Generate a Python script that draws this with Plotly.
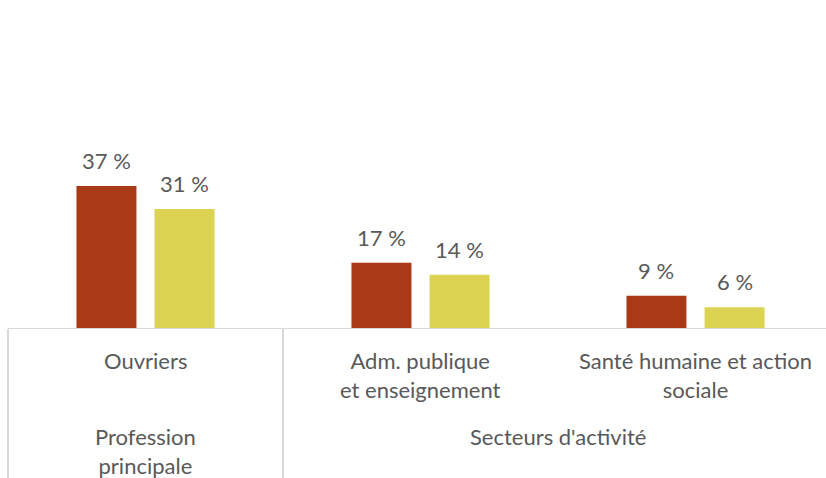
import plotly.graph_objects as go

categories = ["Ouvriers", "Adm. publique<br>et enseignement", "Santé humaine et action<br>sociale"]
groups = ["Profession<br>principale", "Secteurs d'activité"]
group_spans = [(0, 0), (1, 2)]
series_a = [36.9, 17.1, 8.6]
series_b = [31.0, 14.0, 5.6]
colors = ["#A83A17", "#DDD352"]

FONT = "Lato"
FS = 22
TXT = "#595959"
LINE = "#D9D9D9"

xmin, xmax = -0.5, 2.4745
ymin, ymax = 0, 80

x = list(range(len(categories)))
fig = go.Figure()
for vals, col in zip([series_a, series_b], colors):
    fig.add_trace(go.Bar(x=x, y=vals, marker=dict(color=col, line=dict(width=0)),
                         hoverinfo="skip"))

ann = []
offsets = [-0.142, 0.142]
for vals, off in zip([series_a, series_b], offsets):
    for i, v in enumerate(vals):
        ann.append(dict(x=i + off, y=v, xref="x", yref="y", text=f"{v:.0f} %",
                        showarrow=False, yanchor="bottom", yshift=10,
                        font=dict(family=FONT, size=FS, color=TXT)))
for i, c in enumerate(categories):
    ann.append(dict(x=i, y=0, xref="x", yref="y", text=c, showarrow=False,
                    yanchor="top", yshift=-16,
                    font=dict(family=FONT, size=FS, color=TXT)))
for g, (a, b) in zip(groups, group_spans):
    ann.append(dict(x=(a + b) / 2, y=0, xref="x", yref="y", text=g, showarrow=False,
                    yanchor="top", yshift=-92,
                    font=dict(family=FONT, size=FS, color=TXT)))

shapes = [dict(type="line", xref="paper", yref="y", x0=0, x1=1, y0=0, y1=0,
               line=dict(color=LINE, width=2))]
for a, b in group_spans:
    px = (a - 0.5 - xmin) / (xmax - xmin)
    shapes.append(dict(type="line", xref="paper", yref="paper", x0=px, x1=px,
                       y0=0, y1=-0.5, line=dict(color=LINE, width=2)))

fig.update_layout(
    width=826, height=478,
    margin=dict(l=8, r=0, t=19, b=149),
    paper_bgcolor="white", plot_bgcolor="white",
    barmode="group", bargap=0.432, bargroupgap=0.232,
    showlegend=False,
    xaxis=dict(range=[xmin, xmax], showticklabels=False, showgrid=False,
               zeroline=False, showline=False, ticks=""),
    yaxis=dict(range=[ymin, ymax], visible=False),
    annotations=ann, shapes=shapes,
)
fig.write_html("out.html", config={"displayModeBar": False},
               post_script="document.body.style.margin='0';document.body.style.overflow='hidden';")
